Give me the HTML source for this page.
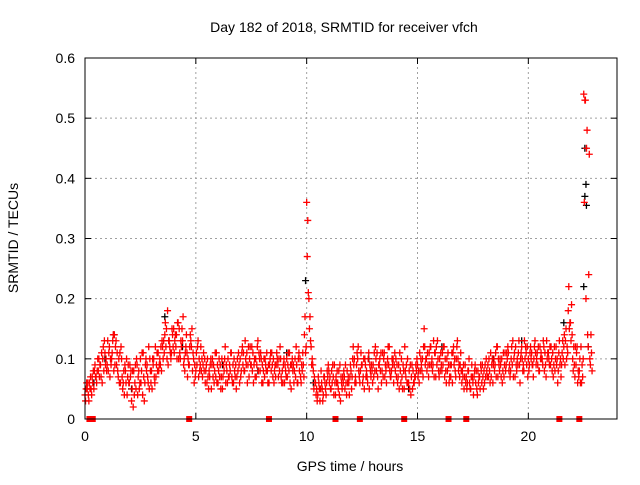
<!DOCTYPE html>
<html><head><meta charset="utf-8"><style>
body{margin:0;background:#fff}
svg text{font-family:"Liberation Sans",sans-serif;font-size:14px;fill:#000}
</style></head><body>
<svg id="c" width="640" height="480" xmlns="http://www.w3.org/2000/svg">
<rect width="640" height="480" fill="#fff"/>
<text x="344" y="32" text-anchor="middle">Day 182 of 2018, SRMTID for receiver vfch</text>
<text x="350" y="471" text-anchor="middle">GPS time / hours</text>
<text transform="translate(18,238) rotate(-90)" text-anchor="middle">SRMTID / TECUs</text>
<g id="grid"></g><g id="ticks"></g><g id="marks"></g>
<rect x="85" y="58" width="532" height="361" fill="none" stroke="#000" stroke-width="1"/>
</svg>
<script>
const xTicks=[0,5,10,15,20];
const yTicks=[0,0.1,0.2,0.3,0.4,0.5,0.6];
const yTickLabels=["0","0.1","0.2","0.3","0.4","0.5","0.6"];
const seriesA=[.04,.05,.06,.04,.05,.07,.08,.09,.10,.11,.09,.12,.10,.08,.13,.07,.06,.05,.09,.04,.06,.03,.08,.05,.07,.10,.04,.06,.09,.05,.08,.10,.07,.11,.09,.12,.14,.10,.13,.11,.15,.12,.16,.10,.13,.08,.11,.09,.12,.10,.08,.13,.09,.07,.10,.06,.08,.05,.09,.07,.06,.09,.05,.10,.08,.07,.11,.06,.09,.08,.10,.12,.08,.11,.07,.09,.06,.10,.13,.08,.09,.07,.11,.06,.08,.10,.07,.09,.12,.08,.06,.10,.08,.05,.09,.07,.06,.10,.08,.14,.36,.20,.12,.08,.06,.04,.03,.05,.07,.06,.08,.05,.07,.04,.06,.09,.05,.07,.04,.06,.08,.12,.07,.10,.06,.09,.05,.08,.11,.07,.09,.12,.07,.10,.08,.11,.06,.09,.07,.10,.08,.06,.11,.07,.05,.09,.06,.04,.08,.07,.09,.11,.08,.15,.10,.07,.12,.09,.11,.13,.10,.08,.12,.06,.09,.07,.11,.08,.13,.07,.06,.05,.07,.08,.05,.06,.09,.04,.07,.06,.08,.10,.07,.11,.06,.09,.12,.08,.10,.07,.09,.11,.08,.13,.07,.10,.09,.12,.08,.11,.10,.12,.09,.13,.11,.08,.10,.12,.07,.11,.09,.11,.08,.10,.13,.09,.12,.15,.18,.16,.10,.07,.12,.08,.06,.54,.20,.12,.09];
const seriesB=[.03,.06,.05,.07,.08,.06,.10,.07,.12,.09,.13,.07,.11,.14,.09,.10,.12,.06,.08,.07,.09,.05,.04,.10,.08,.06,.11,.09,.07,.10,.05,.07,.09,.08,.12,.10,.16,.18,.12,.15,.11,.14,.10,.13,.17,.11,.07,.12,.15,.06,.11,.07,.12,.09,.06,.10,.07,.09,.06,.11,.08,.05,.07,.12,.06,.09,.07,.10,.05,.11,.07,.09,.13,.06,.10,.12,.09,.07,.08,.11,.06,.10,.08,.09,.11,.06,.09,.07,.10,.06,.09,.07,.11,.09,.06,.12,.10,.07,.11,.17,.27,.15,.09,.05,.04,.07,.05,.03,.06,.08,.06,.08,.04,.07,.05,.03,.07,.05,.08,.04,.05,.09,.06,.12,.08,.06,.10,.07,.05,.09,.07,.10,.05,.08,.11,.07,.09,.12,.08,.06,.10,.07,.08,.05,.12,.06,.08,.07,.06,.09,.07,.08,.10,.12,.08,.11,.09,.13,.07,.10,.08,.11,.07,.10,.06,.09,.12,.07,.10,.09,.08,.07,.05,.10,.07,.04,.06,.08,.05,.09,.06,.08,.10,.07,.09,.11,.07,.10,.06,.09,.11,.08,.10,.07,.12,.09,.06,.10,.13,.09,.08,.10,.07,.11,.09,.12,.10,.08,.13,.10,.12,.07,.10,.06,.09,.11,.14,.10,.22,.13,.08,.12,.06,.10,.09,.36,.45,.24,.14];
const seriesC=[.05,.04,.07,.06,.09,.08,.07,.11,.08,.10,.08,.10,.13,.09,.11,.06,.10,.08,.06,.09,.07,.08,.06,.09,.05,.08,.07,.10,.06,.08,.10,.06,.11,.09,.08,.13,.12,.09,.11,.14,.13,.10,.15,.12,.09,.12,.10,.14,.08,.09,.09,.10,.08,.11,.08,.07,.09,.10,.08,.06,.10,.07,.09,.06,.10,.08,.06,.08,.07,.09,.08,.11,.10,.09,.12,.08,.10,.09,.11,.10,.08,.09,.06,.10,.09,.08,.11,.10,.07,.09,.08,.09,.06,.10,.08,.09,.11,.06,.09,.11,.33,.17,.10,.07,.05,.06,.08,.04,.05,.07,.07,.06,.09,.06,.08,.07,.06,.09,.06,.07,.07,.10,.09,.08,.11,.07,.09,.06,.09,.08,.11,.08,.09,.11,.07,.09,.10,.08,.10,.09,.07,.09,.06,.09,.08,.10,.05,.09,.06,.08,.08,.10,.07,.09,.11,.09,.10,.07,.12,.08,.11,.09,.10,.08,.07,.11,.09,.10,.08,.11,.07,.09,.06,.06,.09,.07,.08,.06,.09,.07,.09,.07,.08,.09,.10,.07,.10,.09,.08,.11,.10,.09,.12,.10,.09,.11,.10,.08,.10,.12,.09,.11,.10,.09,.12,.10,.09,.11,.10,.09,.10,.09,.12,.08,.10,.13,.09,.12,.15,.19,.12,.09,.08,.06,.07,.53,.48,.44,.11];
const seriesD=[.06,.03,.05,.08,.07,.10,.09,.06,.13,.08,.11,.09,.14,.12,.08,.11,.07,.04,.10,.06,.08,.02,.09,.04,.06,.11,.03,.08,.12,.06,.09,.12,.08,.10,.13,.11,.15,.13,.10,.12,.14,.16,.11,.15,.10,.14,.09,.13,.11,.07,.12,.08,.10,.08,.09,.05,.10,.07,.11,.09,.07,.10,.08,.09,.07,.11,.09,.07,.10,.06,.11,.08,.09,.12,.09,.11,.07,.12,.10,.06,.10,.08,.09,.11,.07,.09,.10,.08,.06,.10,.07,.11,.09,.08,.10,.06,.08,.09,.07,.12,.21,.13,.09,.06,.03,.05,.06,.07,.04,.09,.05,.09,.06,.08,.04,.06,.08,.06,.07,.09,.10,.06,.11,.07,.09,.10,.07,.10,.08,.06,.08,.11,.09,.06,.10,.08,.12,.07,.09,.11,.09,.05,.10,.08,.07,.06,.09,.05,.07,.10,.06,.09,.12,.10,.09,.12,.08,.11,.09,.07,.09,.12,.08,.11,.09,.06,.10,.12,.09,.08,.09,.06,.08,.05,.07,.08,.05,.07,.08,.05,.07,.09,.06,.10,.08,.12,.09,.07,.11,.08,.12,.07,.09,.11,.08,.13,.11,.09,.12,.07,.11,.09,.12,.10,.08,.11,.13,.09,.11,.12,.08,.12,.09,.11,.07,.10,.13,.11,.16,.14,.09,.11,.07,.12,.10,.53,.14,.10,.08];
const blackTimes=[0.4,0.9,1.3,2.1,3.6,4.4,6.2,7.8,9.1,9.95,10.3,12.8,14.6,16.1,18.4,19.7,20.9,21.6,22.55,22.6,22.55,22.62,22.5,22.7];
const blackValues=[0.06,0.1,0.14,0.05,0.17,0.12,0.09,0.08,0.11,0.23,0.06,0.1,0.05,0.12,0.1,0.13,0.11,0.16,0.45,0.39,0.37,0.355,0.22,0.12];
const gapHours=[0.2,0.35,4.7,8.3,11.3,12.4,14.4,16.4,17.2,21.4,22.3];
const X0=85,X1=617,Y0=419,Y1=58,XMAX=24,YMAX=0.6;
const xs=h=>X0+(X1-X0)*h/XMAX, ys=v=>Y0-(Y0-Y1)*v/YMAX;
const NS='http://www.w3.org/2000/svg';
function mk(tag,attrs,parent){const e=document.createElementNS(NS,tag);for(const k in attrs)e.setAttribute(k,attrs[k]);parent.appendChild(e);return e;}
const grid=document.getElementById('grid'),ticks=document.getElementById('ticks'),marks=document.getElementById('marks');
xTicks.forEach(t=>{const x=xs(t);
 if(t>0){const g=mk('line',{x1:x,x2:x,y1:Y0,y2:Y1,stroke:'#a0a0a0','stroke-dasharray':'2,3'},grid);}
 mk('line',{x1:x,x2:x,y1:Y0,y2:Y0-6,stroke:'#000'},ticks);mk('line',{x1:x,x2:x,y1:Y1,y2:Y1+6,stroke:'#000'},ticks);
 const l=mk('text',{x:x,y:Y0+22,'text-anchor':'middle'},ticks);l.textContent=t;
 
 });
yTicks.forEach((t,i)=>{const y=ys(t);
 if(t>0&&t<YMAX){const g=mk('line',{x1:X0,x2:X1,y1:y,y2:y,stroke:'#a0a0a0','stroke-dasharray':'2,3'},grid);}
 mk('line',{x1:X0,x2:X0+6,y1:y,y2:y,stroke:'#000'},ticks);mk('line',{x1:X1,x2:X1-6,y1:y,y2:y,stroke:'#000'},ticks);
 const l=mk('text',{x:X0-10,y:y+5,'text-anchor':'end'},ticks);l.textContent=yTickLabels[i];
 
 });
function plus(h,v,col,name){const x=xs(h),y=ys(v);
 const p=mk('path',{d:`M${x-3.5},${y}h7M${x},${y-3.5}v7`,stroke:col,'stroke-width':1.3,fill:'none'},marks);
 
 }
blackValues.forEach((v,i)=>plus(blackTimes[i],v,'#000','black-point'));
[[seriesA,0],[seriesB,0.025],[seriesC,0.05],[seriesD,0.075]].forEach(([arr,off])=>arr.forEach((v,i)=>plus(i*0.1+off,v,'#f00','red-point')));
gapHours.forEach(h=>{const r=mk('rect',{x:xs(h)-3,y:Y0-3,width:6,height:6,fill:'#f00'},marks);
 
 });
</script>
</body></html>
